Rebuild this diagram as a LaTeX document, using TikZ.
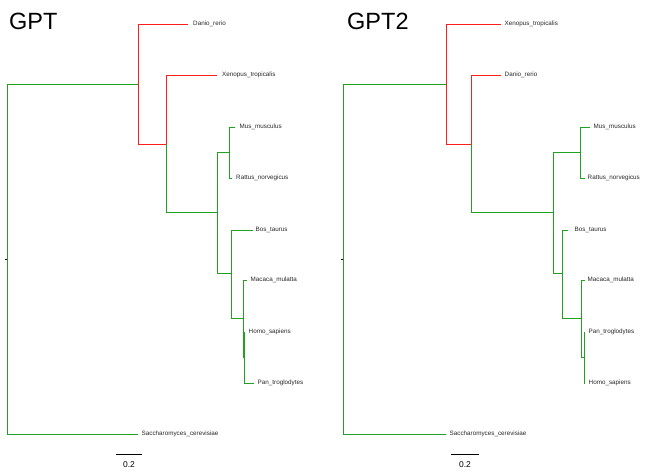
\documentclass[tikz,border=0pt]{standalone}
\usepackage{fontspec}
\setmainfont{Liberation Sans}
\definecolor{tgreen}{RGB}{34,160,34}
\definecolor{tred}{RGB}{255,30,30}
\definecolor{tlab}{RGB}{40,40,40}
\begin{document}
\begin{tikzpicture}[x=1bp,y=-1bp,
  br/.style={line width=0.9bp},
  gb/.style={br,draw=tgreen},
  rb/.style={br,draw=tred},
  tip/.style={anchor=west,inner sep=0pt,text=tlab,font=\fontsize{6.3bp}{7bp}\selectfont},
  ttl/.style={anchor=base west,inner sep=0pt,font=\fontsize{23.5bp}{26bp}\selectfont},
  sbl/.style={anchor=base,inner sep=0pt,font=\fontsize{8.5bp}{9bp}\selectfont}]
\useasboundingbox (0,0) rectangle (672,469);
% ---------------- GPT ----------------
\begin{scope}
\node[ttl] (t1) at (9,30) {GPT};
\coordinate (r) at (7,259);
\coordinate (rt) at (4.5,259);
\coordinate (n1) at (138,84);
\coordinate (n2) at (138,144);
\coordinate (n2p) at (166,144);
\coordinate (n3) at (166,212);
\coordinate (n3p) at (217,212);
\coordinate (n4) at (229,152);
\coordinate (n5) at (231,273);
\coordinate (n6) at (243,318);
\coordinate (n7) at (244.2,357);
\coordinate (tDan) at (188,24);
\coordinate (tXen) at (217,75);
\coordinate (tMus) at (235,127);
\coordinate (tRat) at (232,178);
\coordinate (tBos) at (253,230);
\coordinate (tMac) at (247,280);
\coordinate (tHom) at (245,332);
\coordinate (tPan) at (254,383);
\coordinate (tSac) at (138,434);
\node[tip] (lDan) at (193,24) {Danio\_rerio};
\node[tip] (lXen) at (222,75) {Xenopus\_tropicalis};
\node[tip] (lMus) at (239.5,127) {Mus\_musculus};
\node[tip] (lRat) at (236,178) {Rattus\_norvegicus};
\node[tip] (lBos) at (255.5,230) {Bos\_taurus};
\node[tip] (lMac) at (250.5,280) {Macaca\_mulatta};
\node[tip] (lHom) at (248.5,332) {Homo\_sapiens};
\node[tip] (lPan) at (257.5,383) {Pan\_troglodytes};
\node[tip] (lSac) at (141.5,434) {Saccharomyces\_cerevisiae};
\draw[br,black] (rt) -- (r);
\draw[gb] (r) |- (n1);
\draw[gb] (r) |- (tSac);
\draw[rb] (n1) |- (tDan);
\draw[rb] (n1) |- (n2p);
\draw[rb] (n2p) |- (tXen);
\draw[gb] (n2p) |- (n3p);
\draw[gb] (n3p) |- (n4);
\draw[gb] (n3p) |- (n5);
\draw[gb] (n4) |- (tMus);
\draw[gb] (n4) |- (tRat);
\draw[gb] (n5) |- (tBos);
\draw[gb] (n5) |- (n6);
\draw[gb] (n6) |- (tMac);
\draw[gb] (n6) |- (n7);
\draw[gb] (n7) |- (tHom);
\draw[gb] (n7) |- (tPan);
\coordinate (sa) at (116,454);
\coordinate (sb) at (142,454);
\draw[br,black] (sa) -- (sb);
\node[sbl] (sl) at (129,467) {0.2};
\end{scope}
% ---------------- GPT2 ----------------
\begin{scope}[xshift=336bp]
\node[ttl] (t2) at (11,30) {GPT2};
\coordinate (q) at (7,259);
\coordinate (qt) at (4.5,259);
\coordinate (m1) at (110,84);
\coordinate (m2p) at (135,144);
\coordinate (m3p) at (217,212);
\coordinate (m4) at (244,152);
\coordinate (m5) at (226,273);
\coordinate (m6) at (245.7,318);
\coordinate (m7) at (248.3,357);
\coordinate (uXen) at (165,24);
\coordinate (uDan) at (165,75);
\coordinate (uMus) at (254,127);
\coordinate (uRat) at (249,178);
\coordinate (uBos) at (232,230);
\coordinate (uMac) at (248.5,280);
\coordinate (uPan) at (249.3,332);
\coordinate (uHom) at (248.6,383);
\coordinate (uSac) at (110,434);
\node[tip] (kXen) at (168.5,24) {Xenopus\_tropicalis};
\node[tip] (kDan) at (168.5,75) {Danio\_rerio};
\node[tip] (kMus) at (257.5,127) {Mus\_musculus};
\node[tip] (kRat) at (251.5,178) {Rattus\_norvegicus};
\node[tip] (kBos) at (238.5,230) {Bos\_taurus};
\node[tip] (kMac) at (251.5,280) {Macaca\_mulatta};
\node[tip] (kPan) at (252.5,332) {Pan\_troglodytes};
\node[tip] (kHom) at (252.5,383) {Homo\_sapiens};
\node[tip] (kSac) at (113.5,434) {Saccharomyces\_cerevisiae};
\draw[br,black] (qt) -- (q);
\draw[gb] (q) |- (m1);
\draw[gb] (q) |- (uSac);
\draw[rb] (m1) |- (uXen);
\draw[rb] (m1) |- (m2p);
\draw[rb] (m2p) |- (uDan);
\draw[gb] (m2p) |- (m3p);
\draw[gb] (m3p) |- (m4);
\draw[gb] (m3p) |- (m5);
\draw[gb] (m4) |- (uMus);
\draw[gb] (m4) |- (uRat);
\draw[gb] (m5) |- (uBos);
\draw[gb] (m5) |- (m6);
\draw[gb] (m6) |- (uMac);
\draw[gb] (m6) |- (m7);
\draw[gb] (m7) |- (uPan);
\draw[gb] (m7) |- (uHom);
\coordinate (pa) at (115,454);
\coordinate (pb) at (143,454);
\draw[br,black] (pa) -- (pb);
\node[sbl] (pl) at (129,467) {0.2};
\end{scope}
\end{tikzpicture}
\end{document}
